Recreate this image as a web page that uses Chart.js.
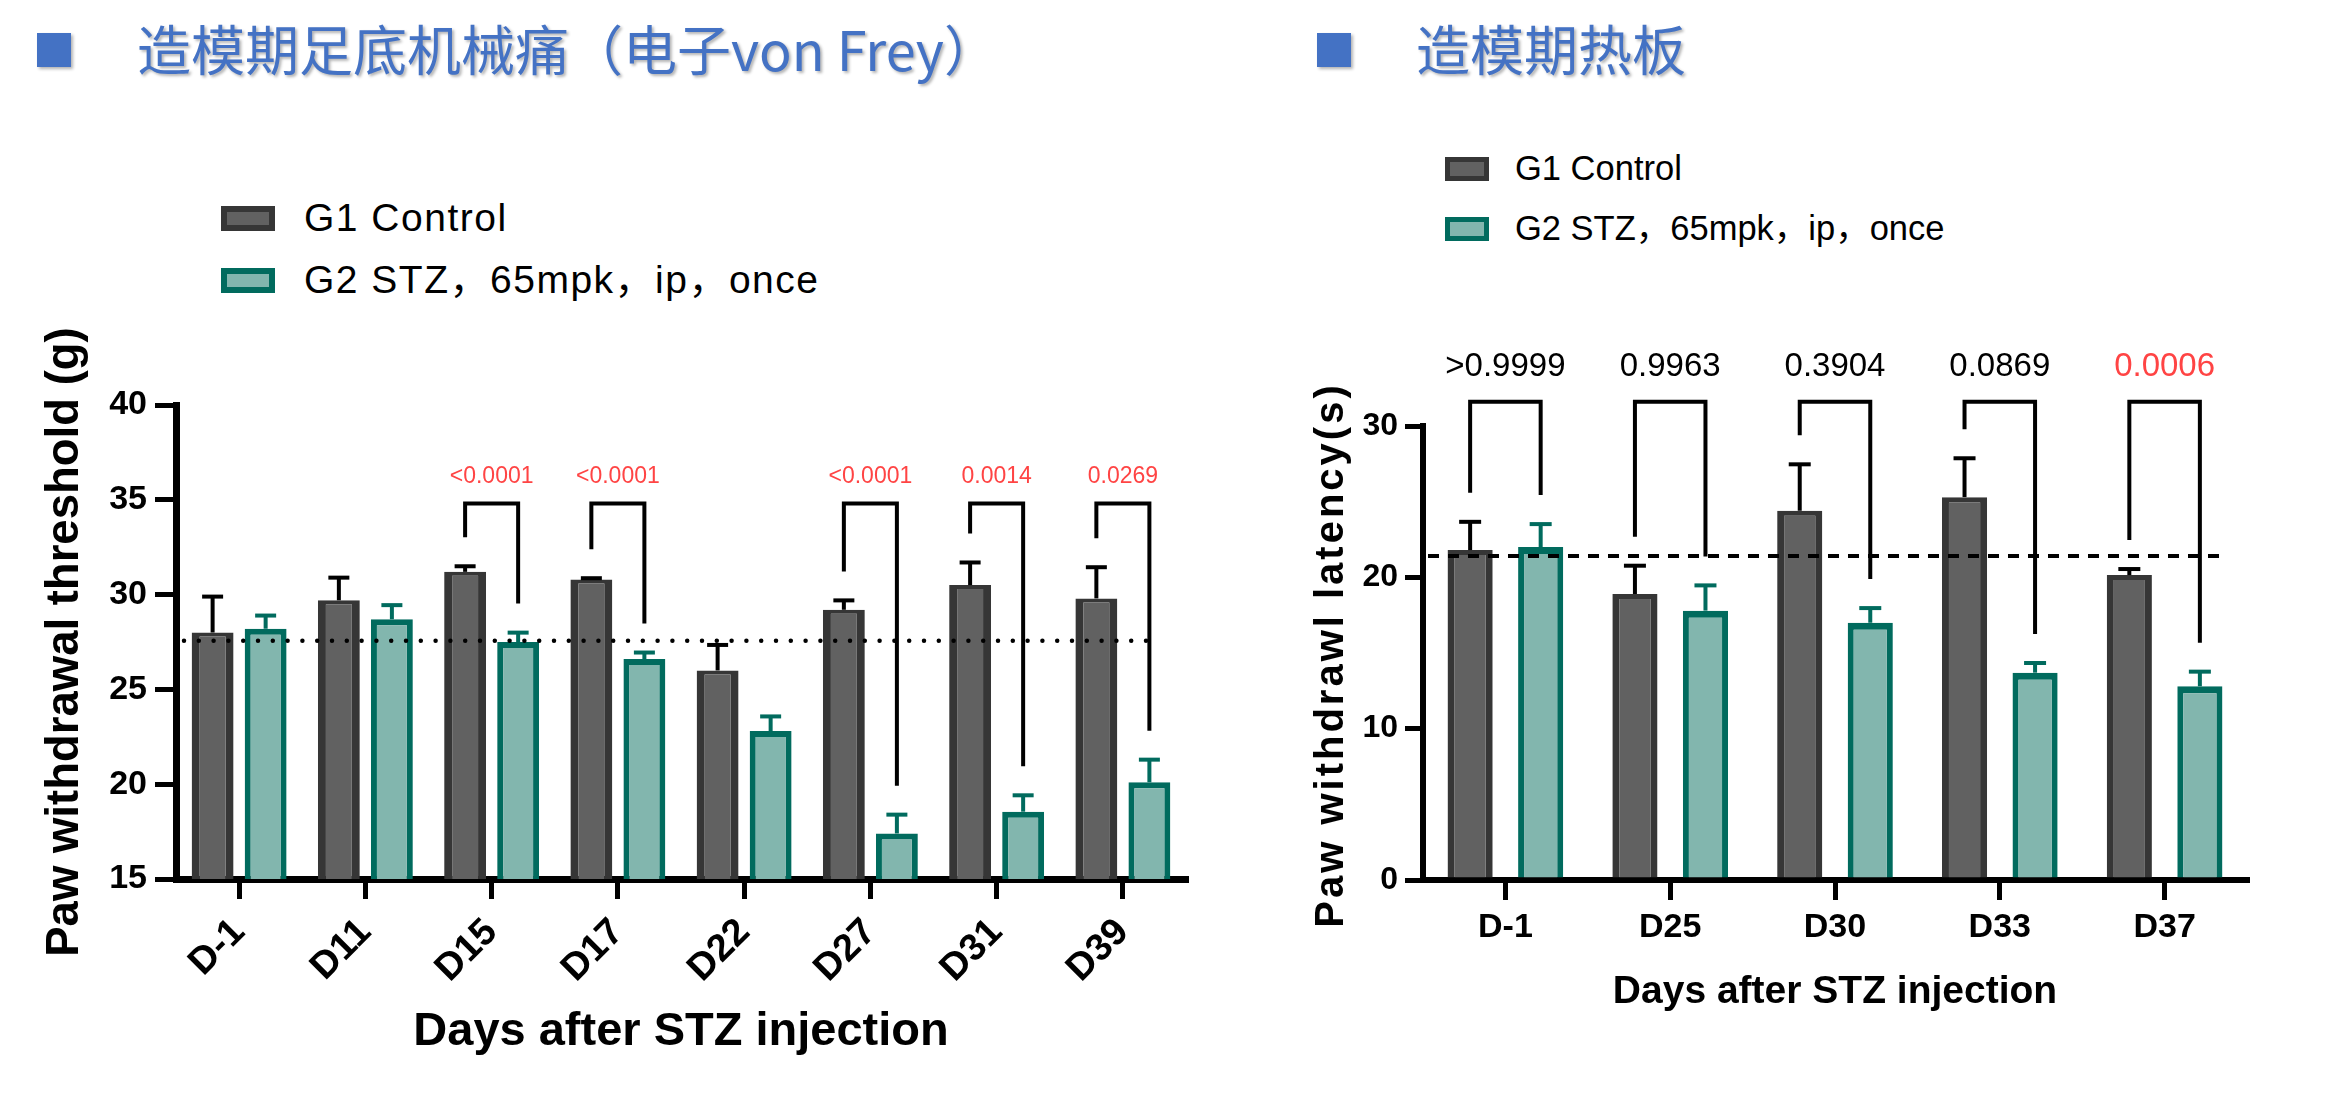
<!DOCTYPE html>
<html>
<head>
<meta charset="utf-8">
<script src="https://cdn.jsdelivr.net/npm/chart.js@4.4.0/dist/chart.umd.min.js"></script>
<style>
html,body{margin:0;padding:0;background:#fff;width:2352px;height:1095px;overflow:hidden;position:relative;
  font-family:"Liberation Sans",Arial,"Noto Sans CJK SC",sans-serif;}
.sq{position:absolute;width:34px;height:34px;background:#4472C4;box-shadow:2px 2px 3px rgba(0,0,0,.3);}
.ttl{position:absolute;font-family:"Noto Sans CJK SC",sans-serif;font-size:54px;line-height:54px;color:#4472C4;
  white-space:nowrap;text-shadow:2px 2px 3px rgba(0,0,0,.3);}
.lg{position:absolute;white-space:nowrap;color:#000;font-family:"Liberation Sans",Arial,"Noto Sans CJK SC",sans-serif;}
.lgbox{position:absolute;box-sizing:border-box;}
canvas{position:absolute;top:0;}
</style>
</head>
<body>
<div class="sq" style="left:37px;top:33px"></div>
<div class="ttl" style="left:137px;top:21px">造模期足底机械痛（电子von Frey）</div>
<div class="sq" style="left:1317px;top:33px"></div>
<div class="ttl" style="left:1416px;top:21px">造模期热板</div>
<div id="legendL"></div>
<div id="legendR"></div>
<canvas id="cL" width="1200" height="1095" style="left:0px"></canvas>
<canvas id="cR" width="1152" height="1095" style="left:1200px"></canvas>
<script>
// ---------- data ----------
const seriesNames = ['G1 Control', 'G2 STZ，65mpk，ip，once'];

// von Frey (left)
const vfCategories = ['D-1', 'D11', 'D15', 'D17', 'D22', 'D27', 'D31', 'D39'];
const vfControlMean = [28.0, 29.7, 31.2, 30.8, 26.0, 29.2, 30.5, 29.8];
const vfControlSem  = [2.0, 1.3, 0.4, 0.17, 1.45, 0.6, 1.3, 1.75];
const vfStzMean     = [28.2, 28.7, 27.5, 26.6, 22.8, 17.4, 18.55, 20.1];
const vfStzSem      = [0.8, 0.85, 0.6, 0.45, 0.88, 1.1, 0.97, 1.3];
const vfPValues     = ['', '', '<0.0001', '<0.0001', '', '<0.0001', '0.0014', '0.0269'];
const vfRefValue    = 27.57;
const vfYTicks      = [15, 20, 25, 30, 35, 40];

// hot plate (right)
const hpCategories  = ['D-1', 'D25', 'D30', 'D33', 'D37'];
const hpControlMean = [21.8, 18.9, 24.4, 25.3, 20.15];
const hpControlSem  = [2.0, 2.0, 3.2, 2.7, 0.53];
const hpStzMean     = [22.0, 17.8, 17.0, 13.7, 12.8];
const hpStzSem      = [1.65, 1.8, 1.1, 0.77, 1.1];
const hpPValues     = ['>0.9999', '0.9963', '0.3904', '0.0869', '0.0006'];
const hpRefValue    = 21.41;
const hpYTicks      = [0, 10, 20, 30];

// ---------- styles ----------
const CTRL_FILL = '#616161', CTRL_BORDER = '#363636';
const STZ_FILL = '#82B6AE', STZ_BORDER = '#016B5E';
const RED = '#FF4444';
const FONT = '"Liberation Sans", Arial, "Noto Sans CJK SC", sans-serif';
Chart.defaults.font.family = FONT;
Chart.defaults.color = '#000';

// ---------- HTML legends ----------
function buildLegend(el, o) {
  const fills = [[CTRL_BORDER, CTRL_FILL], [STZ_BORDER, STZ_FILL]];
  seriesNames.forEach((name, i) => {
    const b = document.createElement('div');
    b.className = 'lgbox';
    b.style.cssText = `left:${o.boxX}px;top:${o.boxY[i]}px;width:${o.boxW}px;height:${o.boxH}px;border:${o.bw}px solid ${fills[i][0]};background:${fills[i][1]};`;
    el.appendChild(b);
    const t = document.createElement('div');
    t.className = 'lg';
    t.textContent = name;
    t.style.cssText += `left:${o.textX}px;top:${o.textY[i]}px;font-size:${o.fs}px;line-height:${o.fs}px;letter-spacing:${o.ls}px;`;
    el.appendChild(t);
  });
}
buildLegend(document.getElementById('legendL'), {boxX:221, boxY:[206, 268], boxW:54, boxH:25, bw:6,
  textX:304, textY:[198, 260], fs:39, ls:1.5});
buildLegend(document.getElementById('legendR'), {boxX:1445, boxY:[157, 217], boxW:44, boxH:24, bw:5,
  textX:1515, textY:[151, 211], fs:34.5, ls:0});

// ---------- annotation plugin (error bars, brackets, p values, ref line) ----------
function annotPlugin(spec) {
  return {
    id: 'annot_' + spec.key,
    afterDatasetsDraw(chart) {
      const ctx = chart.ctx, ys = chart.scales.y, area = chart.chartArea;
      const metas = [chart.getDatasetMeta(0), chart.getDatasetMeta(1)];
      ctx.save();
      // reference line
      const ry = ys.getPixelForValue(spec.refValue);
      ctx.beginPath();
      ctx.strokeStyle = '#000';
      ctx.lineWidth = spec.refWidth;
      ctx.lineCap = spec.refCap;
      ctx.setLineDash(spec.refDash);
      ctx.moveTo(area.left + spec.refInsetL, ry);
      ctx.lineTo(area.right - spec.refInsetR, ry);
      ctx.stroke();
      ctx.setLineDash([]);
      // error bars
      metas.forEach((meta, d) => {
        const means = spec.means[d], sems = spec.sems[d];
        ctx.strokeStyle = spec.errColors[d];
        ctx.lineWidth = 4;
        ctx.lineCap = 'butt';
        meta.data.forEach((bar, i) => {
          const yTop = ys.getPixelForValue(means[i]);
          const yErr = ys.getPixelForValue(means[i] + sems[i]);
          ctx.beginPath();
          ctx.moveTo(bar.x, yTop);
          ctx.lineTo(bar.x, yErr + 2);
          ctx.stroke();
          ctx.beginPath();
          ctx.moveTo(bar.x - spec.capHalf, yErr + 2);
          ctx.lineTo(bar.x + spec.capHalf, yErr + 2);
          ctx.stroke();
        });
      });
      // brackets + p values
      const yb = ys.getPixelForValue(spec.bracketValue);
      spec.pvals.forEach((p, i) => {
        if (!p) return;
        const x1 = metas[0].data[i].x, x2 = metas[1].data[i].x;
        const l1 = ys.getPixelForValue(spec.means[0][i] + spec.sems[0][i]) - spec.legGap;
        const l2 = ys.getPixelForValue(spec.means[1][i] + spec.sems[1][i]) - spec.legGap;
        ctx.strokeStyle = '#000';
        ctx.lineWidth = 4;
        ctx.lineJoin = 'miter';
        ctx.lineCap = 'butt';
        ctx.beginPath();
        ctx.moveTo(x1, l1);
        ctx.lineTo(x1, yb);
        ctx.lineTo(x2, yb);
        ctx.lineTo(x2, l2);
        ctx.stroke();
        const num = parseFloat(p.replace(/[<>]/g, ''));
        ctx.fillStyle = num < 0.05 ? RED : '#000';
        ctx.font = `${spec.pSize}px ${FONT}`;
        ctx.textAlign = 'center';
        ctx.textBaseline = 'middle';
        ctx.fillText(p, (x1 + x2) / 2, yb - spec.textGap);
      });
      // letter-spaced vertical axis title (drawn here when requested)
      if (spec.yTitle) {
        const t = spec.yTitle;
        ctx.translate(ys.left + t.x, (area.top + area.bottom) / 2 + t.dy);
        ctx.rotate(-Math.PI / 2);
        ctx.font = `bold ${t.size}px ${FONT}`;
        ctx.letterSpacing = t.spacing + 'px';
        ctx.fillStyle = '#000';
        ctx.textAlign = 'center';
        ctx.textBaseline = 'middle';
        ctx.fillText(t.text, 0, 0);
      }
      ctx.restore();
    }
  };
}

function makeChart(id, o) {
  return new Chart(document.getElementById(id), {
    type: 'bar',
    data: {
      labels: o.categories,
      datasets: [
        {label: seriesNames[0], data: o.means[0], backgroundColor: CTRL_FILL, borderColor: CTRL_BORDER,
          borderWidth: o.bw[0], borderSkipped: 'start', categoryPercentage: o.catPct, barPercentage: o.barPct},
        {label: seriesNames[1], data: o.means[1], backgroundColor: STZ_FILL, borderColor: STZ_BORDER,
          borderWidth: o.bw[1], borderSkipped: 'start', categoryPercentage: o.catPct, barPercentage: o.barPct}
      ]
    },
    options: {
      responsive: false,
      animation: false,
      devicePixelRatio: 1,
      events: [],
      layout: {padding: o.padding},
      plugins: {legend: {display: false}, tooltip: {enabled: false}},
      scales: {
        x: {
          offset: true,
          border: {display: true, color: '#000', width: o.xBorder},
          grid: {offset: false, drawOnChartArea: false, drawTicks: true, tickLength: 20, lineWidth: 5, color: '#000'},
          ticks: {color: '#000', font: {size: o.xTickSize, weight: 'bold'}, minRotation: o.rot, maxRotation: o.rot,
            autoSkip: false, padding: o.xTickPad},
          title: {display: true, text: 'Days after STZ injection', color: '#000',
            font: {size: o.xTitleSize, weight: 'bold'}, padding: {top: 0, bottom: o.xTitlePad}},
          afterFit(s) { s.height = o.xHeight; }
        },
        y: {
          min: o.yTicks[0], max: o.yTicks[o.yTicks.length - 1],
          afterBuildTicks(s) { s.ticks = o.yTicks.map(v => ({value: v})); },
          border: {display: true, color: '#000', width: o.yBorder},
          grid: {drawOnChartArea: false, drawTicks: true, tickLength: o.yTickLen, lineWidth: 5, color: '#000'},
          ticks: {color: '#000', font: {size: o.yTickSize, weight: 'bold'}, padding: o.yTickPad},
          title: {display: o.yTitleShow, text: o.yTitle, color: '#000',
            font: {size: o.yTitleSize, weight: 'bold'}, padding: {top: o.yTitlePad, bottom: 0}},
          afterFit(s) { s.width = o.yWidth; }
        }
      }
    },
    plugins: [annotPlugin(o.annot)]
  });
}

makeChart('cL', {
  categories: vfCategories,
  means: [vfControlMean, vfStzMean],
  bw: [{top: 4, left: 8, right: 8, bottom: 0}, {top: 6, left: 6, right: 6, bottom: 0}],
  catPct: 0.84, barPct: 0.79,
  padding: {top: 405, left: 0, right: 14, bottom: 0},
  xBorder: 7, yBorder: 7, rot: 45, xTickSize: 38, xTickPad: 11,
  xTitleSize: 47, xTitlePad: 35, xHeight: 216,
  yTicks: vfYTicks, yTickLen: 21, yTickSize: 34, yTickPad: 8,
  yTitleShow: true, yTitle: 'Paw withdrawal threshold (g)', yTitleSize: 45.5, yTitlePad: 38.5, yWidth: 176,
  annot: {key: 'L', means: [vfControlMean, vfStzMean], sems: [vfControlSem, vfStzSem],
    errColors: ['#000', STZ_BORDER], capHalf: 10.5,
    refValue: vfRefValue, refWidth: 4.5, refCap: 'round', refDash: [0, 14.8], refInsetL: 8, refInsetR: 36,
    pvals: vfPValues, bracketValue: 34.8, legGap: 27, textGap: 27, pSize: 23}
});

makeChart('cR', {
  categories: hpCategories,
  means: [hpControlMean, hpStzMean],
  bw: [{top: 5, left: 7, right: 7, bottom: 0}, {top: 7, left: 6, right: 6, bottom: 0}],
  catPct: 0.856, barPct: 0.64,
  padding: {top: 426, left: 0, right: 105, bottom: 0},
  xBorder: 6, yBorder: 6, rot: 0, xTickSize: 34, xTickPad: 7,
  xTitleSize: 39, xTitlePad: 79, xHeight: 215,
  yTicks: hpYTicks, yTickLen: 18, yTickSize: 32, yTickPad: 7,
  yTitleShow: false, yTitle: 'Paw withdrawl latency(s)', yTitleSize: 40, yTitlePad: 108, yWidth: 223,
  annot: {key: 'R', means: [hpControlMean, hpStzMean], sems: [hpControlSem, hpStzSem],
    errColors: ['#000', STZ_BORDER], capHalf: 11,
    refValue: hpRefValue, refWidth: 4, refCap: 'butt', refDash: [11, 9], refInsetL: 5, refInsetR: 19,
    pvals: hpPValues, bracketValue: 31.6, legGap: 27, textGap: 35, pSize: 33,
    yTitle: {text: 'Paw withdrawl latency(s)', size: 40, spacing: 3, x: 132, dy: 2}}
});
</script>
</body>
</html>
